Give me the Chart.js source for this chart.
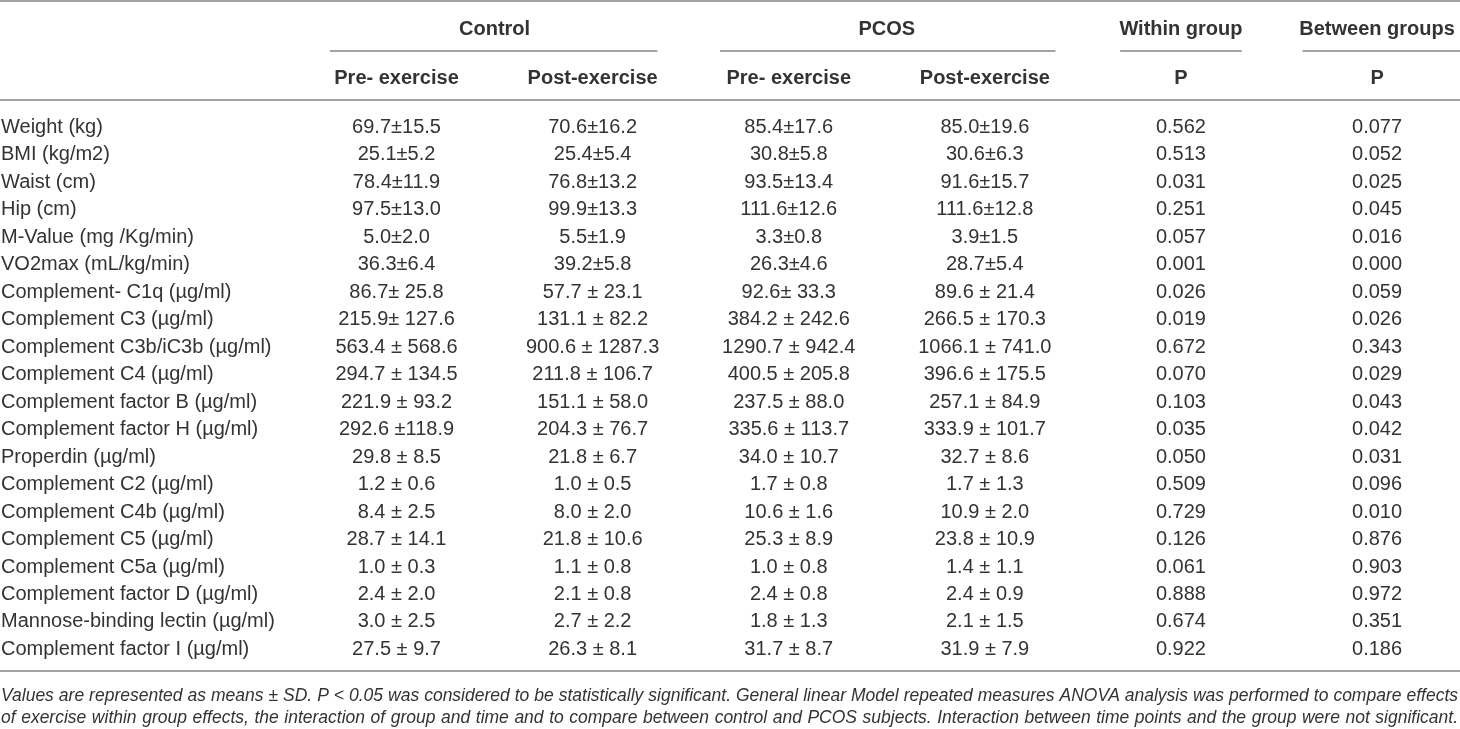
<!DOCTYPE html>
<html>
<head>
<meta charset="utf-8">
<script src="https://cdn.jsdelivr.net/npm/chart.js@4.4.1/dist/chart.umd.min.js"></script>
<style>
  html, body { margin: 0; padding: 0; background: #ffffff; }
  #wrap { width: 1460px; height: 729px; }
</style>
</head>
<body>
<div id="wrap"><canvas id="c" width="1460" height="729"></canvas></div>
<script>
// ---------------- DATA ----------------
const rowLabels = [
  'Weight (kg)', 'BMI (kg/m2)', 'Waist (cm)', 'Hip (cm)', 'M-Value (mg /Kg/min)',
  'VO2max (mL/kg/min)', 'Complement- C1q (\u00b5g/ml)', 'Complement C3 (\u00b5g/ml)',
  'Complement C3b/iC3b (\u00b5g/ml)', 'Complement C4 (\u00b5g/ml)', 'Complement factor B (\u00b5g/ml)',
  'Complement factor H (\u00b5g/ml)', 'Properdin (\u00b5g/ml)', 'Complement C2 (\u00b5g/ml)',
  'Complement C4b (\u00b5g/ml)', 'Complement C5 (\u00b5g/ml)', 'Complement C5a (\u00b5g/ml)',
  'Complement factor D (\u00b5g/ml)', 'Mannose-binding lectin (\u00b5g/ml)', 'Complement factor I (\u00b5g/ml)'
];
const controlPre = [
  '69.7\u00b115.5', '25.1\u00b15.2', '78.4\u00b111.9', '97.5\u00b113.0', '5.0\u00b12.0', '36.3\u00b16.4',
  '86.7\u00b1 25.8', '215.9\u00b1 127.6', '563.4 \u00b1 568.6', '294.7 \u00b1 134.5', '221.9 \u00b1 93.2',
  '292.6 \u00b1118.9', '29.8 \u00b1 8.5', '1.2 \u00b1 0.6', '8.4 \u00b1 2.5', '28.7 \u00b1 14.1',
  '1.0 \u00b1 0.3', '2.4 \u00b1 2.0', '3.0 \u00b1 2.5', '27.5 \u00b1 9.7'
];
const controlPost = [
  '70.6\u00b116.2', '25.4\u00b15.4', '76.8\u00b113.2', '99.9\u00b113.3', '5.5\u00b11.9', '39.2\u00b15.8',
  '57.7 \u00b1 23.1', '131.1 \u00b1 82.2', '900.6 \u00b1 1287.3', '211.8 \u00b1 106.7', '151.1 \u00b1 58.0',
  '204.3 \u00b1 76.7', '21.8 \u00b1 6.7', '1.0 \u00b1 0.5', '8.0 \u00b1 2.0', '21.8 \u00b1 10.6',
  '1.1 \u00b1 0.8', '2.1 \u00b1 0.8', '2.7 \u00b1 2.2', '26.3 \u00b1 8.1'
];
const pcosPre = [
  '85.4\u00b117.6', '30.8\u00b15.8', '93.5\u00b113.4', '111.6\u00b112.6', '3.3\u00b10.8', '26.3\u00b14.6',
  '92.6\u00b1 33.3', '384.2 \u00b1 242.6', '1290.7 \u00b1 942.4', '400.5 \u00b1 205.8', '237.5 \u00b1 88.0',
  '335.6 \u00b1 113.7', '34.0 \u00b1 10.7', '1.7 \u00b1 0.8', '10.6 \u00b1 1.6', '25.3 \u00b1 8.9',
  '1.0 \u00b1 0.8', '2.4 \u00b1 0.8', '1.8 \u00b1 1.3', '31.7 \u00b1 8.7'
];
const pcosPost = [
  '85.0\u00b119.6', '30.6\u00b16.3', '91.6\u00b115.7', '111.6\u00b112.8', '3.9\u00b11.5', '28.7\u00b15.4',
  '89.6 \u00b1 21.4', '266.5 \u00b1 170.3', '1066.1 \u00b1 741.0', '396.6 \u00b1 175.5', '257.1 \u00b1 84.9',
  '333.9 \u00b1 101.7', '32.7 \u00b1 8.6', '1.7 \u00b1 1.3', '10.9 \u00b1 2.0', '23.8 \u00b1 10.9',
  '1.4 \u00b1 1.1', '2.4 \u00b1 0.9', '2.1 \u00b1 1.5', '31.9 \u00b1 7.9'
];
const pWithin = [
  '0.562', '0.513', '0.031', '0.251', '0.057', '0.001', '0.026', '0.019', '0.672', '0.070',
  '0.103', '0.035', '0.050', '0.509', '0.729', '0.126', '0.061', '0.888', '0.674', '0.922'
];
const pBetween = [
  '0.077', '0.052', '0.025', '0.045', '0.016', '0.000', '0.059', '0.026', '0.343', '0.029',
  '0.043', '0.042', '0.031', '0.096', '0.010', '0.876', '0.903', '0.972', '0.351', '0.186'
];
const groupHeaders = ['Control', 'PCOS', 'Within group', 'Between groups'];
const subHeaders = ['Pre- exercise', 'Post-exercise', 'Pre- exercise', 'Post-exercise', 'P', 'P'];
const footnoteLines = [
  'Values are represented as means \u00b1 SD. P < 0.05 was considered to be statistically significant. General linear Model repeated measures ANOVA analysis was performed to compare effects',
  'of exercise within group effects, the interaction of group and time and to compare between control and PCOS subjects. Interaction between time points and the group were not significant.'
];

// ---------------- LAYOUT / STYLE ----------------
const valueColumns = [controlPre, controlPost, pcosPre, pcosPost, pWithin, pBetween];
const groupSpans = [[0.66, 2.33], [2.65, 4.36], [4.69, 5.31], [5.62, 6.5]];
const groupCenters = [1.5, 3.5, 5, 6];
const Y_GROUP = -3.57, Y_SUB = -1.80;
const Y_LINE_TOP = -4.55, Y_LINE_GROUP = -2.73, Y_LINE_HEAD = -0.96, Y_LINE_BOTTOM = 19.84;
const Y_FOOT = [20.70, 21.53];

const FONT = "'Liberation Sans', Arial, Helvetica, sans-serif";
const TEXT_COLOR = '#333333';
const LINE_COLOR = '#a3a3a3';

const datasets = valueColumns.map((col, ci) => ({
  label: 'col' + ci,
  cellText: col,
  data: col.map((_, ri) => ({ x: ci + 1, y: ri })),
  pointRadius: 0,
  pointHoverRadius: 0,
  showLine: false
}));
datasets.unshift({
  label: 'labels',
  cellText: rowLabels,
  isLabel: true,
  data: rowLabels.map((_, ri) => ({ x: 0, y: ri })),
  pointRadius: 0,
  pointHoverRadius: 0,
  showLine: false
});

function drawJustified(ctx, text, x0, x1, y) {
  const words = text.split(' ');
  const total = words.reduce((s, w) => s + ctx.measureText(w).width, 0);
  const gap = (x1 - x0 - total) / (words.length - 1);
  let x = x0;
  ctx.textAlign = 'left';
  words.forEach(w => { ctx.fillText(w, x, y); x += ctx.measureText(w).width + gap; });
}

const tablePlugin = {
  id: 'tableText',
  afterDatasetsDraw(chart) {
    const ctx = chart.ctx;
    const xs = chart.scales.x, ys = chart.scales.y;
    const area = chart.chartArea;
    ctx.save();
    ctx.strokeStyle = LINE_COLOR;
    ctx.lineWidth = 2;
    const hline = (x0, x1, yv) => {
      const y = Math.round(ys.getPixelForValue(yv));
      ctx.beginPath(); ctx.moveTo(x0, y); ctx.lineTo(x1, y); ctx.stroke();
    };
    hline(area.left, area.right, Y_LINE_TOP);
    hline(area.left, area.right, Y_LINE_HEAD);
    hline(area.left, area.right, Y_LINE_BOTTOM);
    groupSpans.forEach(s => {
      hline(xs.getPixelForValue(s[0]), Math.min(area.right, xs.getPixelForValue(s[1])), Y_LINE_GROUP);
    });

    ctx.fillStyle = TEXT_COLOR;
    const base = 7;
    ctx.font = 'bold 20px ' + FONT;
    ctx.textAlign = 'center';
    groupHeaders.forEach((h, i) => {
      ctx.fillText(h, xs.getPixelForValue(groupCenters[i]), ys.getPixelForValue(Y_GROUP) + base);
    });
    subHeaders.forEach((h, i) => {
      ctx.fillText(h, xs.getPixelForValue(i + 1), ys.getPixelForValue(Y_SUB) + base);
    });

    ctx.font = '20px ' + FONT;
    chart.data.datasets.forEach((ds, di) => {
      const meta = chart.getDatasetMeta(di);
      meta.data.forEach((el, ri) => {
        if (ds.isLabel) {
          ctx.textAlign = 'left';
          ctx.fillText(ds.cellText[ri], area.left + 1, el.y + base);
        } else {
          ctx.textAlign = 'center';
          ctx.fillText(ds.cellText[ri], el.x, el.y + base);
        }
      });
    });

    ctx.font = 'italic 17.5px ' + FONT;
    footnoteLines.forEach((t, i) => {
      drawJustified(ctx, t, area.left + 1, area.right - 2, ys.getPixelForValue(Y_FOOT[i]) + 6);
    });
    ctx.restore();
  }
};

new Chart(document.getElementById('c'), {
  type: 'scatter',
  data: { datasets },
  options: {
    responsive: false,
    animation: false,
    devicePixelRatio: 1,
    layout: { padding: 0 },
    events: [],
    plugins: { legend: { display: false }, tooltip: { enabled: false }, title: { display: false } },
    scales: {
      x: { type: 'linear', display: false, min: -1.022, max: 6.423 },
      y: { type: 'linear', display: false, reverse: true, min: -4.587, max: 21.95 }
    }
  },
  plugins: [tablePlugin]
});
</script>
</body>
</html>
